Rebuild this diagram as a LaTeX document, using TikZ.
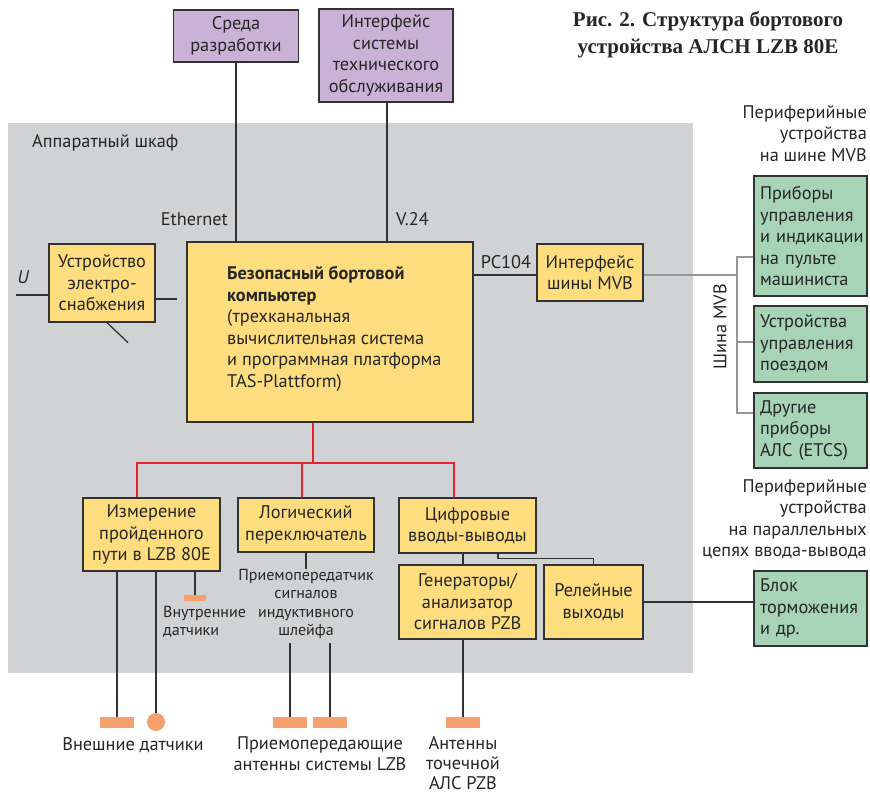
\documentclass[tikz,border=0pt]{standalone}
\usepackage{fontspec}
\setmainfont{PT Sans}
\newfontfamily\titlefont{Liberation Serif}
\usetikzlibrary{positioning,calc}
\definecolor{yel}{RGB}{253,221,125}
\definecolor{lila}{RGB}{201,178,214}
\definecolor{grn}{RGB}{166,212,181}
\definecolor{cab}{RGB}{209,210,212}
\definecolor{edge}{RGB}{50,50,50}
\definecolor{busgray}{RGB}{150,150,150}
\definecolor{redl}{RGB}{226,35,48}
\definecolor{ant}{RGB}{246,160,110}

\begin{document}
\begin{tikzpicture}[x=1pt, y=-1pt, font=\fontsize{18.3}{21.5}\selectfont, text=black!85,
  box/.style={draw=edge, line width=1.2pt, fill=yel, align=center, inner sep=0pt},
  pbox/.style={box, fill=lila},
  gbox/.style={box, fill=grn, align=left, text width=101pt, inner xsep=6pt},
  ln/.style={draw=edge, line width=1.3pt},
  bus/.style={draw=busgray, line width=2.4pt},
  redln/.style={draw=redl, line width=2pt},
  small/.style={font=\fontsize{16}{18.4}\selectfont, inner sep=0pt},
  bar/.style={fill=ant, minimum width=34pt, minimum height=11pt, inner sep=0pt}]
\useasboundingbox (0,0) rectangle (870,796);
\fill[cab] (8,123) rectangle (693,673);
\node[anchor=west, inner sep=0pt] (cabinet) at (32,143) {Аппаратный шкаф};

\node[align=center, inner sep=0pt, font=\titlefont\bfseries\fontsize{21}{27}\selectfont] (title) at (708,35)
  {Рис. 2. Структура бортового\\устройства АЛСН LZB 80E};

\node[pbox, minimum width=125pt, minimum height=52pt] (dev) at (236,36) {Среда\\разработки};
\node[pbox, minimum width=134pt, minimum height=93pt] (maint) at (386,55.5) {Интерфейс\\системы\\технического\\обслуживания};

\node[box, minimum width=286pt, minimum height=180pt] (cpu) at (330,332) {};
\node[anchor=north west, align=left, inner sep=0pt] (cputext) at (227,266)
  {\textbf{Безопасный бортовой}\\\textbf{компьютер}\\(трехканальная\\вычислительная система\\и программная платформа\\TAS-Plattform)};

\node[box, minimum width=106pt, minimum height=78pt] (pwr) at (102,283) {Устройство\\электро-\\снабжения};
\node[box, minimum width=106pt, minimum height=57pt] (mvbif) at (590,272.5) {Интерфейс\\шины MVB};

\node[box, minimum width=137pt, minimum height=73pt] (meas) at (151.5,534.5) {Измерение\\пройденного\\пути в LZB 80E};
\node[box, minimum width=136pt, minimum height=54pt] (logic) at (306,525) {Логический\\переключатель};
\node[box, minimum width=137pt, minimum height=55pt] (dio) at (467.5,525.5) {Цифровые\\вводы-выводы};
\node[box, minimum width=137pt, minimum height=74pt] (gen) at (467.5,602) {Генераторы/\\анализатор\\сигналов PZB};
\node[box, minimum width=99pt, minimum height=74pt] (relay) at (593.5,602) {Релейные\\выходы};

\node[gbox, minimum height=120pt] (g1) at (810.5,236) {Приборы\\управления\\и~индикации\\на~пульте\\машиниста};
\node[gbox, minimum height=76pt] (g2) at (810.5,344) {Устройства\\управления\\поездом};
\node[gbox, minimum height=75pt] (g3) at (810.5,430.5) {Другие\\приборы\\АЛС~(ETCS)};
\node[gbox, minimum height=75pt] (g4) at (810.5,608.5) {Блок\\торможения\\и~др.};

\node[anchor=north east, align=right, inner sep=0pt] (perA) at (867,105) {Периферийные\\устройства\\на шине MVB};
\node[anchor=north east, align=right, inner sep=0pt] (perB) at (867,479) {Периферийные\\устройства\\на параллельных\\цепях ввода-вывода};

\node[anchor=east, inner sep=0pt] (eth) at (228,219) {Ethernet};
\node[anchor=west, inner sep=0pt] (v24) at (396,219) {V.24};
\node[inner sep=0pt] (pc) at (506,262) {PC104};
\node[rotate=90, inner sep=0pt] (mvb) at (720,327) {Шина MVB};
\node[inner sep=0pt] (u) at (23,277) {\itshape U};

\node[small, anchor=north west, align=left] (intl) at (163,606) {Внутренние\\датчики};
\node[small, anchor=north, align=center] (xcvr) at (306,569) {Приемопередатчик\\сигналов\\индуктивного\\шлейфа};

\node[bar, minimum width=22pt, minimum height=6pt] (int) at (195,598) {};
\node[bar] (ext1) at (117,722.5) {};
\node[circle, fill=ant, minimum size=18pt, inner sep=0pt] (ext2) at (156,722) {};
\node[bar] (lzb1) at (290,722.5) {};
\node[bar] (lzb2) at (330,722.5) {};
\node[bar] (pzb) at (463,722.5) {};

\node[inner sep=0pt] (extl) at (133,745) {Внешние датчики};
\node[anchor=north, align=center, inner sep=0pt] (lzbl) at (320,736) {Приемопередающие\\антенны системы LZB};
\node[anchor=north, align=center, inner sep=0pt, font=\fontsize{18.3}{20}\selectfont] (pzbl) at (463,736) {Антенны\\точечной\\АЛС PZB};

\draw[ln] (dev.south) -- (dev.south |- cpu.north);
\draw[ln] ([xshift=1]maint.south) -- ([xshift=1]maint.south |- cpu.north);
\draw[ln] (cpu.east |- 0,275) -- (mvbif.west |- 0,275);
\draw[ln] ([yshift=-12]pwr.west) -- ++(-32,0);
\draw[ln] ([yshift=-16]pwr.east) -- ++(21,0);
\draw[ln] ([xshift=5]pwr.south) -- ++(21,20);

\coordinate (bt) at (737,257);
\coordinate (bb) at (737,413);
\draw[bus] (mvbif.east |- 0,275) -- (bt |- 0,275);
\draw[bus] (g1.west |- bt) -- (bt) -- (bb) -- (g3.west |- bb);
\draw[bus] (g2.west |- 0,342) -- (bt |- 0,342);

\coordinate (rj) at (313,463);
\coordinate (tm) at (137,463);
\coordinate (tl) at (302,463);
\coordinate (td) at (454,463);
\draw[redln] (cpu.south -| rj) -- (rj);
\draw[redln] (tm |- meas.north) -- (tm) -- (td) -- (td |- dio.north);
\draw[redln] (tl) -- (tl |- logic.north);

\draw[ln] ([xshift=-4.5]dio.south) -- ([xshift=-4.5]gen.north);
\draw[ln] ([xshift=30.5]dio.south) -- ++(0,5) -| (relay.north);
\draw[ln] (relay.east) -- (relay.east -| g4.west);
\draw[ln] (logic.south) -- (xcvr.north);
\draw[ln] (meas.south -| int) -- (int.north);
\draw[ln] (meas.south -| ext1) -- (ext1.north);
\draw[ln] (meas.south -| ext2) -- (ext2.north);
\draw[ln] (lzb1 |- 0,643) -- (lzb1.north);
\draw[ln] (lzb2 |- 0,643) -- (lzb2.north);
\draw[ln] (gen.south -| pzb) -- (pzb.north);
\end{tikzpicture}
\end{document}
